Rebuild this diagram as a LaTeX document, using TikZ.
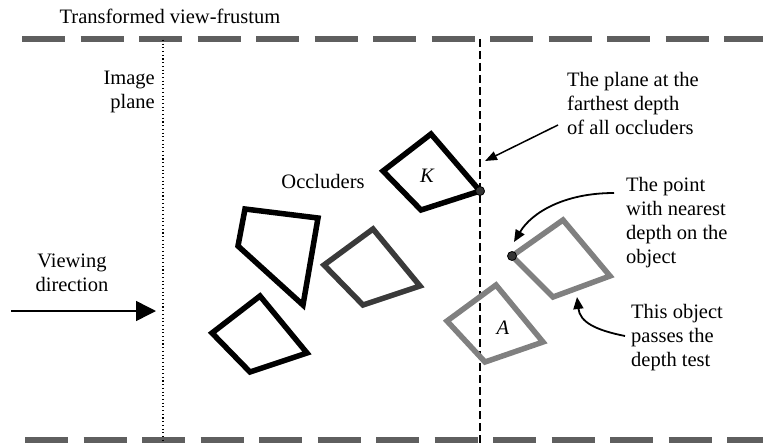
\documentclass[tikz,border=0pt]{standalone}
\usepackage{fontspec}
\setmainfont{Liberation Serif}
\usetikzlibrary{positioning, arrows.meta, calc}
\definecolor{frust}{HTML}{5f5f5f}
\definecolor{occl}{HTML}{000000}
\definecolor{darkocc}{HTML}{3a3a3a}
\definecolor{objgray}{HTML}{808080}
\definecolor{dotfill}{HTML}{333333}

\begin{document}
\begin{tikzpicture}[x=1pt, y=-1pt,
    font=\fontsize{20.5}{24}\selectfont,
    lbl/.style={inner sep=0pt, align=left},
    frustum/.style={frust, line width=5.5pt, dash pattern=on 43pt off 15.5pt},
    quad/.style={line width=5.5pt, line join=miter},
    pin/.style={circle, draw=black, fill=dotfill, line width=0.8pt, minimum size=9pt, inner sep=0pt},
    callout/.style={line width=1.8pt, -{Triangle[length=12pt, width=10pt]}}]
  \useasboundingbox (0,0) rectangle (763,444);

  % Frustum borders
  \node[inner sep=0pt] (title) at (170,16) {Transformed view-frustum};
  \draw[frustum] (22,39) -- (763,39);
  \draw[frustum] (25,440) -- (763,440);

  % Image plane and farthest plane
  \draw[line width=1.1pt, dash pattern=on 1.1pt off 2.6pt] (163,40) -- (163,440);
  \draw[line width=1.5pt, dash pattern=on 8pt off 4pt] (480,39) -- (480,444);
  \node[lbl, align=right, anchor=north east] (imgplane) at (155,71) {Image\\plane};

  % Viewing direction
  \node[lbl, align=center, anchor=north] (viewdir) at (72,254) {Viewing\\direction};
  \coordinate (eye) at (11,311);
  \coordinate (eyetip) at (156,311);
  \draw[line width=1.5pt, -{Triangle[length=20pt, width=20pt]}] (eye) -- (eyetip);

  % Occluders
  \node[inner sep=0pt] (occ) at (323,181) {Occluders};
  \draw[quad, occl] (245,209) -- (318,218) -- (303,305) -- (238,246) -- cycle;
  \draw[quad, darkocc] (373,229) -- (420,286) -- (363,305) -- (324,265) -- cycle;
  \draw[quad, occl] (260,296) -- (307,353) -- (250,372) -- (212,333) -- cycle;
  \draw[quad, occl] (431,134) -- (480,191) -- (421,210) -- (383,171) -- cycle;
  \node[inner sep=0pt, font=\fontsize{20.5}{24}\selectfont\itshape] (K) at (427,176) {K};
  \node[pin] (farpt) at (480,191) {};

  % Tested objects
  \draw[quad, objgray] (496,285) -- (543,342) -- (485,362) -- (447,321) -- cycle;
  \node[inner sep=0pt, font=\fontsize{20.5}{24}\selectfont\itshape] (A) at (503,328) {A};
  \draw[quad, objgray] (563,220) -- (610,276) -- (553,297) -- (512,256) -- cycle;
  \node[pin] (nearpt) at (512,256) {};

  % Callouts
  \node[lbl, anchor=north west] (farlbl) at (567,72) {The plane at the\\farthest depth\\of all occluders};
  \node[lbl, anchor=north west] (nearlbl) at (626,177) {The point\\with nearest\\depth on the\\object};
  \node[lbl, anchor=north west] (passlbl) at (631,304) {This object\\passes the\\depth test};

  \coordinate (farfrom) at (558,125);
  \coordinate (farto) at (485,161);
  \draw[line width=1.5pt, -{Triangle[length=12pt, width=9pt]}] (farfrom) -- (farto);

  \coordinate (nearfrom) at (614,193);
  \coordinate (nearto) at (514,242);
  \draw[callout] (nearfrom) .. controls (565,193) and (532,212) .. (nearto);

  \coordinate (passfrom) at (625,336);
  \coordinate (passto) at (577,297);
  \draw[callout] (passfrom) .. controls (595,330) and (580,322) .. (passto);
\end{tikzpicture}
\end{document}
